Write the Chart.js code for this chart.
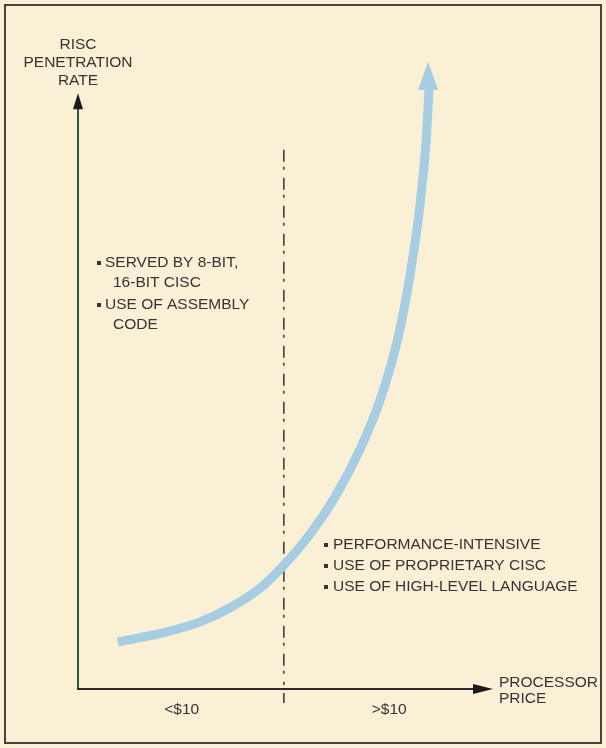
<!DOCTYPE html>
<html>
<head>
<meta charset="utf-8">
<script src="https://cdn.jsdelivr.net/npm/chart.js@4.4.1/dist/chart.umd.min.js"></script>
<style>
  html, body { margin: 0; padding: 0; background: #faf0d6; }
  .wrap { width: 606px; height: 748px; position: relative; }
</style>
</head>
<body>
<div class="wrap"><canvas id="risc-chart"></canvas></div>
<script>
// curve (x = processor price, y = penetration rate, 0..100)
const curveX = [9.6, 21.4, 29.4, 37.3, 43.9, 49.4, 55.9, 61.9, 68.0, 72.8, 77.1, 80.0, 82.4, 83.9, 84.6];
const curveY = [7.5, 9.1, 10.7, 13.2, 16.1, 19.6, 24.7, 30.6, 38.3, 46.1, 56.0, 66.0, 77.2, 87.6, 95.9];

const priceTicks = [25, 75];
const priceLabels = ['<$10', '>$10'];
const priceBreak = 49.6;
const yAxisTop = 95;
const breakTop = 86;

const yTitle = ['RISC', 'PENETRATION', 'RATE'];
const xTitle = ['PROCESSOR', 'PRICE'];
const lowNotes = [['SERVED BY 8-BIT,', '16-BIT CISC'], ['USE OF ASSEMBLY', 'CODE']];
const highNotes = ['PERFORMANCE-INTENSIVE', 'USE OF PROPRIETARY CISC', 'USE OF HIGH-LEVEL LANGUAGE'];

const points = curveX.map((x, i) => ({x: x, y: curveY[i]}));
const FONT = '15.5px "Liberation Sans", Arial, sans-serif';
const INK = '#3a3232';
const CURVE = '#a6cde2';

const bullet = (ctx, x, y) => { ctx.fillRect(x - 2, y - 2, 4, 4); };

const decor = {
  id: 'decor',
  beforeDraw(chart) {
    const ctx = chart.ctx;
    const xs = chart.scales.x, ys = chart.scales.y;
    const x0 = xs.getPixelForValue(0), y0 = ys.getPixelForValue(0);
    ctx.save();
    ctx.fillStyle = '#faf0d6';
    ctx.fillRect(0, 0, chart.width, chart.height);
    ctx.strokeStyle = '#4d4040';
    ctx.lineWidth = 2;
    ctx.strokeRect(5, 5, 596, 738);

    // dashed price break
    const bx = xs.getPixelForValue(priceBreak);
    ctx.strokeStyle = '#3a3232';
    ctx.lineWidth = 1.5;
    ctx.setLineDash([12, 5, 3, 8]);
    ctx.beginPath();
    ctx.moveTo(bx, ys.getPixelForValue(breakTop));
    ctx.lineTo(bx, y0 - 4);
    ctx.stroke();
    ctx.setLineDash([]);
    ctx.beginPath();
    ctx.moveTo(bx, y0 + 4);
    ctx.lineTo(bx, y0 + 14);
    ctx.stroke();

    // y axis
    const yTip = ys.getPixelForValue(yAxisTop);
    ctx.strokeStyle = '#2f5a3a';
    ctx.lineWidth = 2;
    ctx.beginPath();
    ctx.moveTo(x0, y0);
    ctx.lineTo(x0, yTip + 10);
    ctx.stroke();
    ctx.fillStyle = '#1a1a1a';
    ctx.beginPath();
    ctx.moveTo(x0, yTip);
    ctx.lineTo(x0 - 5, yTip + 16);
    ctx.lineTo(x0 + 5, yTip + 16);
    ctx.closePath();
    ctx.fill();

    // x axis
    const xTip = xs.getPixelForValue(100);
    ctx.strokeStyle = '#2e2a28';
    ctx.lineWidth = 2;
    ctx.beginPath();
    ctx.moveTo(x0 - 1, y0);
    ctx.lineTo(xTip - 12, y0);
    ctx.stroke();
    ctx.beginPath();
    ctx.moveTo(xTip, y0);
    ctx.lineTo(xTip - 20, y0 - 5);
    ctx.lineTo(xTip - 20, y0 + 5);
    ctx.closePath();
    ctx.fill();

    // texts
    ctx.fillStyle = INK;
    ctx.font = FONT;
    ctx.textBaseline = 'middle';
    ctx.textAlign = 'center';
    yTitle.forEach((t, i) => ctx.fillText(t, x0, 45 + i * 18));
    priceTicks.forEach((v, i) => ctx.fillText(priceLabels[i], xs.getPixelForValue(v), y0 + 21));
    ctx.textAlign = 'left';
    xTitle.forEach((t, i) => ctx.fillText(t, xTip + 6, y0 - 6 + i * 16));

    let ly = 263;
    lowNotes.forEach(note => {
      bullet(ctx, 99, ly);
      ctx.fillText(note[0], 105, ly);
      ctx.fillText(note[1], 113, ly + 20);
      ly += 42;
    });
    highNotes.forEach((t, i) => {
      bullet(ctx, 326, 545 + i * 21);
      ctx.fillText(t, 333, 545 + i * 21);
    });
    ctx.restore();
  },
  afterDatasetsDraw(chart) {
    // arrowhead on the curve
    const ctx = chart.ctx;
    const last = points[points.length - 1];
    const px = chart.scales.x.getPixelForValue(last.x);
    const py = chart.scales.y.getPixelForValue(last.y);
    ctx.save();
    ctx.fillStyle = CURVE;
    ctx.beginPath();
    ctx.moveTo(px - 1, py - 26);
    ctx.lineTo(px - 11, py + 2);
    ctx.lineTo(px + 9, py + 2);
    ctx.closePath();
    ctx.fill();
    ctx.restore();
  }
};

new Chart(document.querySelector('#risc-chart'), {
  type: 'line',
  data: {
    datasets: [{
      data: points,
      borderColor: CURVE,
      borderWidth: 9,
      borderCapStyle: 'butt',
      pointRadius: 0,
      cubicInterpolationMode: 'monotone',
      fill: false,
      clip: false,
    }],
  },
  options: {
    responsive: true,
    maintainAspectRatio: false,
    animation: false,
    layout: { padding: { left: 78, right: 113, top: 62, bottom: 59 } },
    plugins: { legend: { display: false }, tooltip: { enabled: false } },
    scales: {
      x: { type: 'linear', min: 0, max: 100, display: false },
      y: { type: 'linear', min: 0, max: 100, display: false },
    },
  },
  plugins: [decor],
});
</script>
</body>
</html>
